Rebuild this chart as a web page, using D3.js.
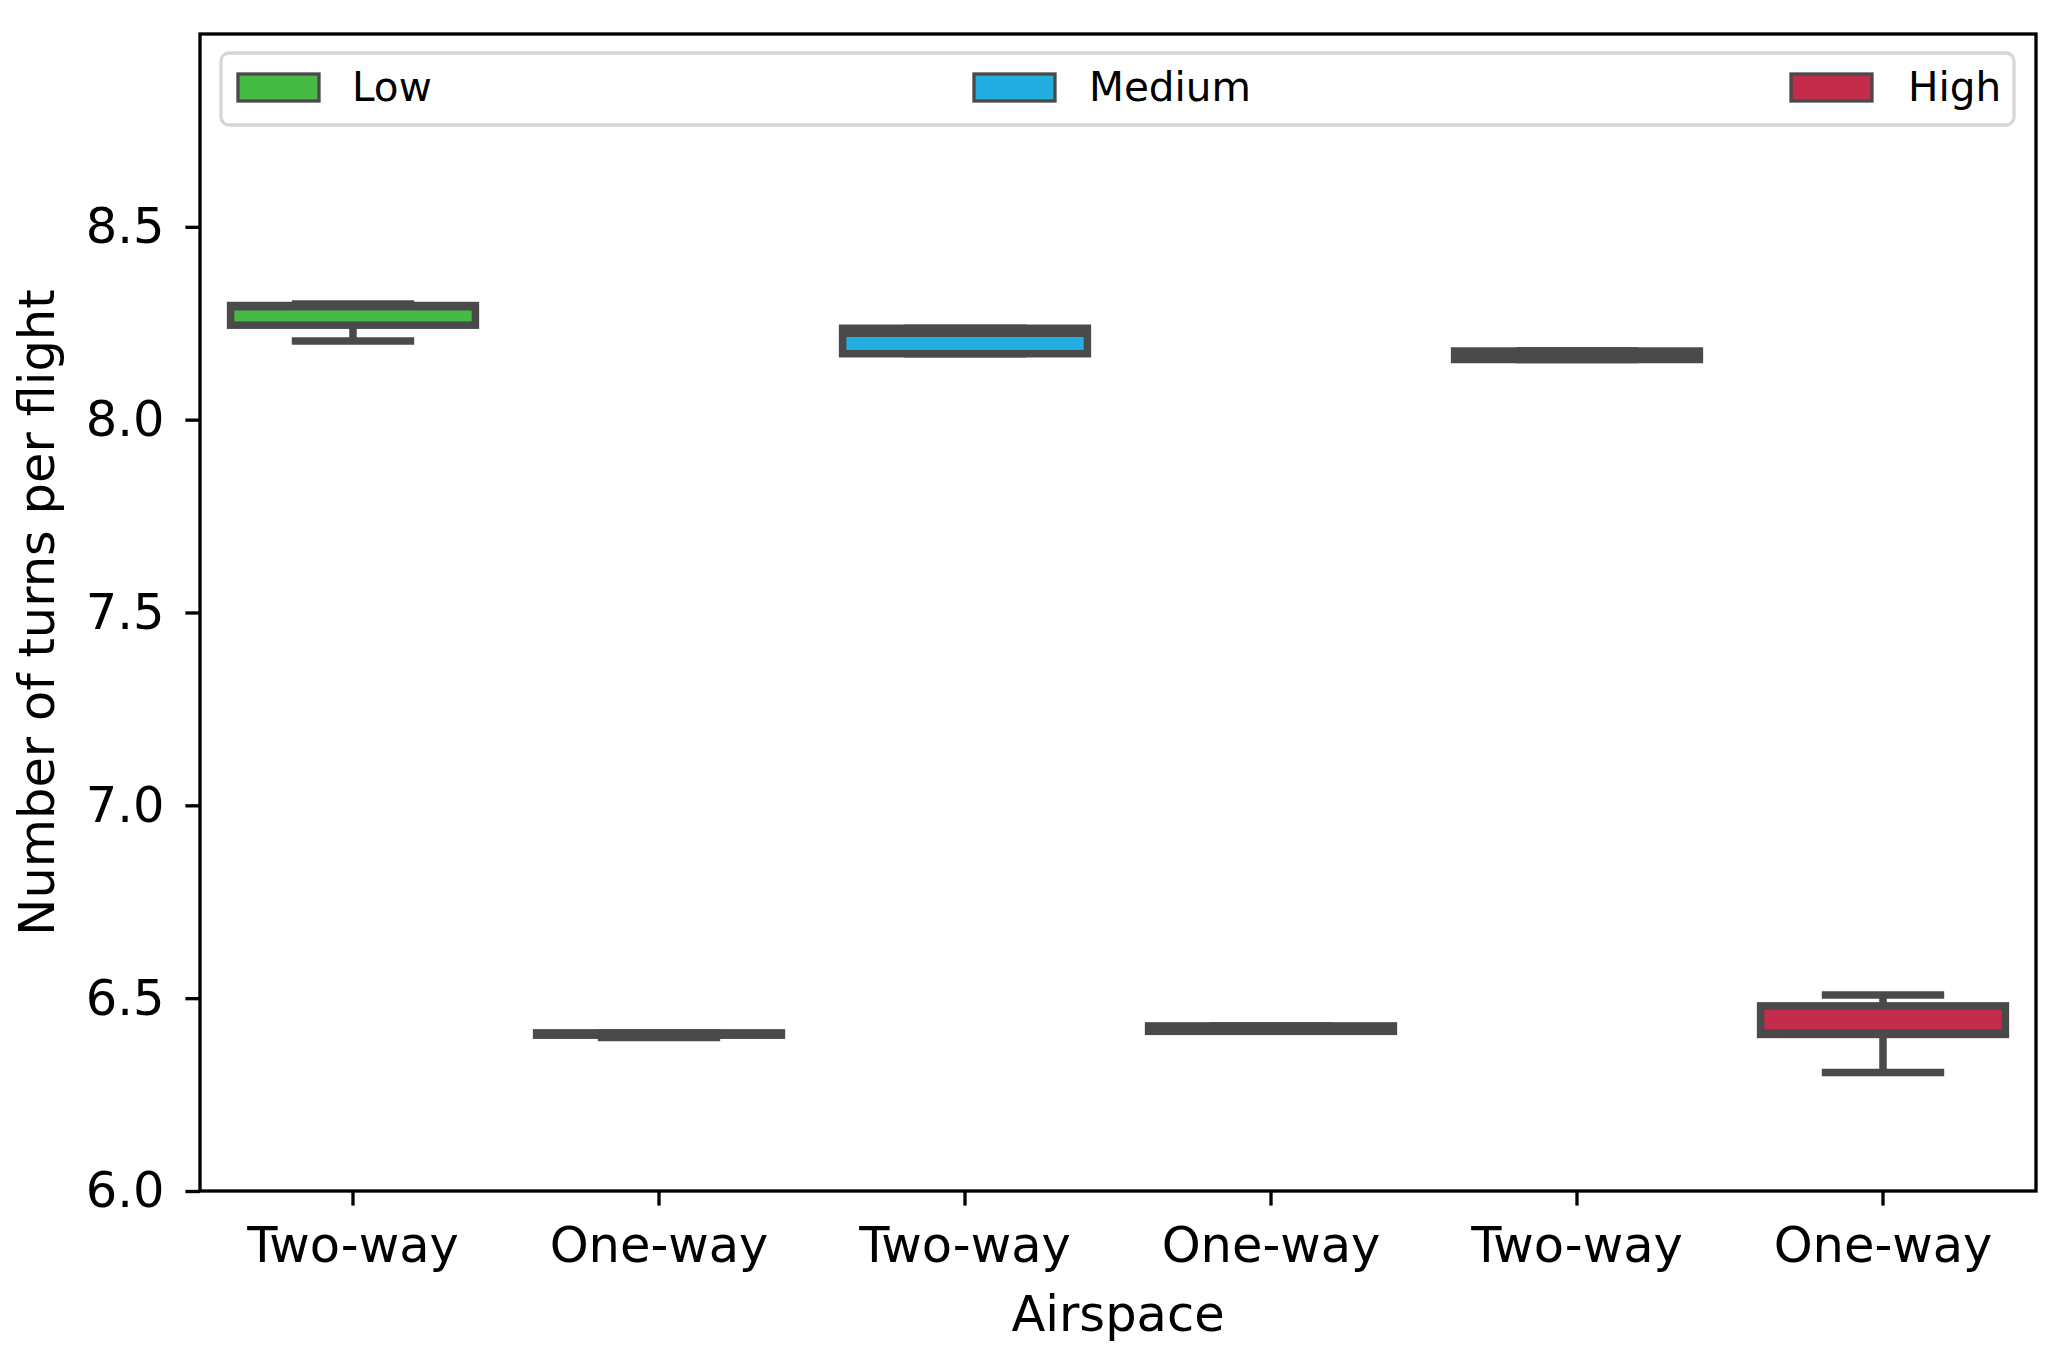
<!DOCTYPE html>
<html>
<head>
<meta charset="utf-8">
<script src="https://cdn.jsdelivr.net/npm/d3@7"></script>
<style>
  html, body { margin: 0; padding: 0; background: #fff; }
  svg { display: block; }
  text { font-family: "DejaVu Sans", sans-serif; fill: #000; }
</style>
</head>
<body>
<svg id="chart" width="2060" height="1367"></svg>
<script>
// ---- data ----
const categories = ["Two-way", "One-way", "Two-way", "One-way", "Two-way", "One-way"];
const groups = ["Low", "Low", "Medium", "Medium", "High", "High"];
const whiskerLow  = [8.204, 6.398, 8.171, 6.414, 8.156, 6.307];
const q1Values    = [8.245, 6.404, 8.171, 6.414, 8.156, 6.406];
const medianValues= [8.293, 6.407, 8.224, 6.421, 8.167, 6.410];
const q3Values    = [8.296, 6.410, 8.237, 6.428, 8.178, 6.480];
const whiskerHigh = [8.300, 6.410, 8.237, 6.428, 8.178, 6.508];
const legendLabels = ["Low", "Medium", "High"];
const groupColors = ["#45ba45", "#22aee0", "#c42c4b"];
const yTicks = [6.0, 6.5, 7.0, 7.5, 8.0, 8.5];
const yDomain = [6.0, 9.0];

// ---- layout ----
const svg = d3.select("#chart");
const L = 200, R = 2036, T = 34, B = 1191;
const edge = "#4a4a4a";
const lw = 7.5;
const fs = 49.5;      // tick + axis labels
const lfs = 40.5;     // legend text

const x = d3.scaleBand().domain(d3.range(categories.length)).range([L, R]).padding(0);
const y = d3.scaleLinear().domain(yDomain).range([B, T]);
const color = d3.scaleOrdinal().domain(legendLabels).range(groupColors);

const bw = x.bandwidth();
const boxW = bw * 0.8;
const capW = bw * 0.4;

const g = svg.append("g");

const idx = d3.range(categories.length);
idx.forEach(i => {
  const cx = x(i) + bw / 2;
  // whiskers
  g.append("line").attr("x1", cx).attr("x2", cx)
    .attr("y1", y(q3Values[i])).attr("y2", y(whiskerHigh[i]))
    .attr("stroke", edge).attr("stroke-width", lw);
  g.append("line").attr("x1", cx).attr("x2", cx)
    .attr("y1", y(q1Values[i])).attr("y2", y(whiskerLow[i]))
    .attr("stroke", edge).attr("stroke-width", lw);
  // box
  g.append("rect")
    .attr("x", cx - boxW / 2)
    .attr("y", y(q3Values[i]))
    .attr("width", boxW)
    .attr("height", Math.max(0, y(q1Values[i]) - y(q3Values[i])))
    .attr("fill", color(groups[i]))
    .attr("stroke", edge).attr("stroke-width", lw);
  // median
  g.append("line").attr("x1", cx - boxW / 2).attr("x2", cx + boxW / 2)
    .attr("y1", y(medianValues[i])).attr("y2", y(medianValues[i]))
    .attr("stroke", edge).attr("stroke-width", lw);
  // caps
  [whiskerLow[i], whiskerHigh[i]].forEach(v => {
    g.append("line").attr("x1", cx - capW / 2).attr("x2", cx + capW / 2)
      .attr("y1", y(v)).attr("y2", y(v))
      .attr("stroke", edge).attr("stroke-width", lw);
  });
});

// ---- axes ----
const yAxis = d3.axisLeft(y).tickValues(yTicks).tickFormat(d3.format(".1f"))
  .tickSize(14.6).tickPadding(21);
const ya = svg.append("g").attr("transform", `translate(${L},0)`).call(yAxis);
ya.select(".domain").remove();
ya.selectAll(".tick line").attr("stroke", "#000").attr("stroke-width", 3.33);
ya.selectAll(".tick text").attr("font-size", fs).style("font-family", '"DejaVu Sans", sans-serif').attr("fill", "#000");

const xAxis = d3.axisBottom(x).tickFormat(i => categories[i]).tickSize(14.6).tickPadding(21);
const xa = svg.append("g").attr("transform", `translate(0,${B})`).call(xAxis);
xa.select(".domain").remove();
xa.selectAll(".tick line").attr("stroke", "#000").attr("stroke-width", 3.33);
xa.selectAll(".tick text").attr("font-size", fs).style("font-family", '"DejaVu Sans", sans-serif').attr("fill", "#000");

// frame
svg.append("rect").attr("x", L).attr("y", T).attr("width", R - L).attr("height", B - T)
  .attr("fill", "none").attr("stroke", "#000").attr("stroke-width", 3.33);

// axis labels
svg.append("text").attr("x", (L + R) / 2).attr("y", 1331)
  .attr("text-anchor", "middle").attr("font-size", fs).text("Airspace");
svg.append("text")
  .attr("transform", `translate(54,${(T + B) / 2}) rotate(-90)`)
  .attr("text-anchor", "middle").attr("font-size", fs).text("Number of turns per flight");

// ---- legend ----
const lg = svg.append("g");
lg.append("rect").attr("x", 221).attr("y", 53).attr("width", 2014 - 221).attr("height", 125 - 53)
  .attr("rx", 8).attr("fill", "#fff").attr("fill-opacity", 0.8)
  .attr("stroke", "#d6d6d6").attr("stroke-width", 3.3);
const patchX = [238, 974, 1791];
const textX = [352, 1089, 1908];
legendLabels.forEach((lab, k) => {
  lg.append("rect").attr("x", patchX[k]).attr("y", 74).attr("width", 81).attr("height", 27)
    .attr("fill", color(lab)).attr("stroke", edge).attr("stroke-width", 3.3);
  lg.append("text").attr("x", textX[k]).attr("y", 101).attr("font-size", lfs).text(lab);
});
</script>
</body>
</html>
